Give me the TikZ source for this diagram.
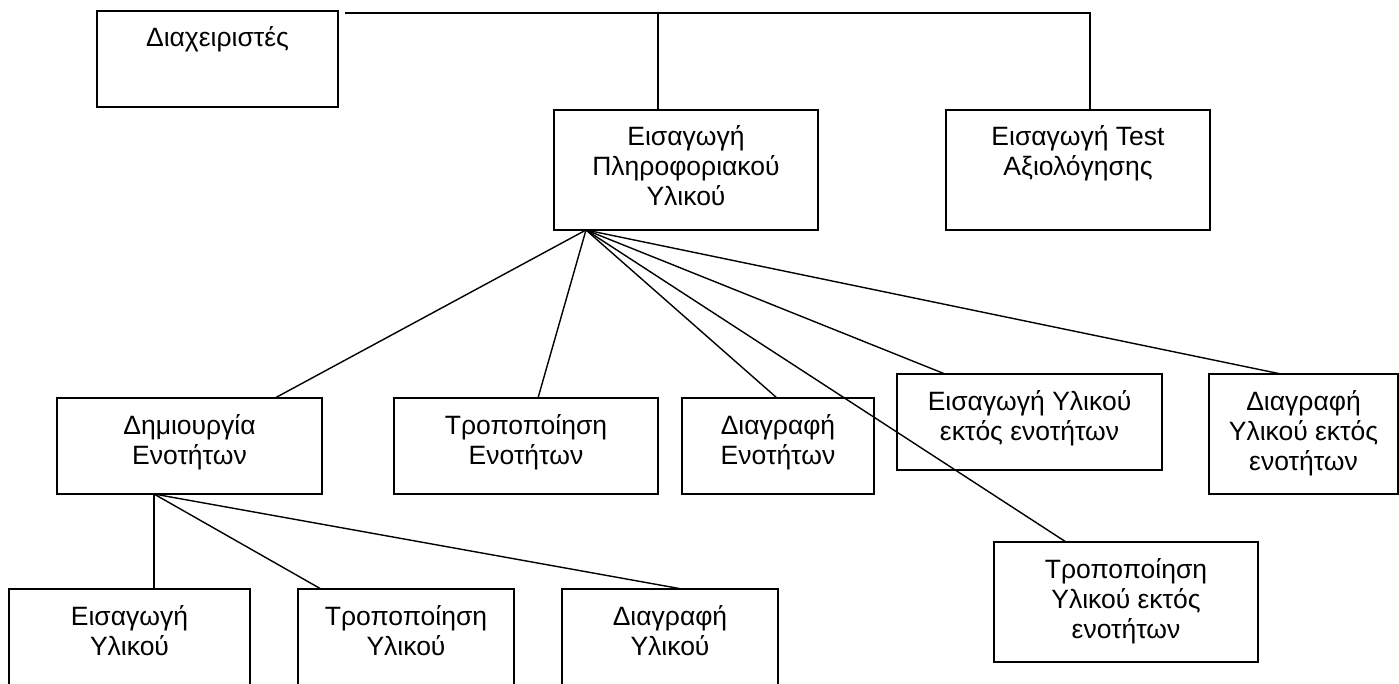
\documentclass[tikz,border=0pt]{standalone}
\usepackage{fontspec}
\setmainfont{Liberation Sans}
\newcommand{\bxt}[3]{\parbox[t][#2][t]{#1}{\fontsize{26.5}{30}\selectfont\centering\rule{0pt}{36pt}#3\par}}
\begin{document}
\begin{tikzpicture}[x=1pt,y=-1pt,
  bx/.style={draw, line width=1.9pt, inner sep=0pt, outer sep=0pt, anchor=north west},
  ln/.style={line width=1.4pt}]
\clip (0,0) rectangle (1399,684);
% boxes
\node[bx] (adm) at (97,11) {\bxt{241pt}{96pt}{Διαχειριστές}};
\node[bx] (pl) at (554,110) {\bxt{264pt}{120pt}{Εισαγωγή\\Πληροφοριακού\\Υλικού}};
\node[bx] (test) at (946,110) {\bxt{264pt}{120pt}{Εισαγωγή Test\\Αξιολόγησης}};
\node[bx] (dim) at (57,398) {\bxt{265pt}{96pt}{Δημιουργία\\Ενοτήτων}};
\node[bx] (trEn) at (394,398) {\bxt{264pt}{96pt}{Τροποποίηση\\Ενοτήτων}};
\node[bx] (diEn) at (682,398) {\bxt{192pt}{96pt}{Διαγραφή\\Ενοτήτων}};
\node[bx] (eisEk) at (897,374) {\bxt{265pt}{96pt}{Εισαγωγή Υλικού\\εκτός ενοτήτων}};
\node[bx] (diEk) at (1209,374) {\bxt{189pt}{120pt}{Διαγραφή\\Υλικού εκτός\\ενοτήτων}};
\node[bx] (trEk) at (994,542) {\bxt{264pt}{120pt}{Τροποποίηση\\Υλικού εκτός\\ενοτήτων}};
\node[bx] (eisYl) at (9,589) {\bxt{241pt}{110pt}{Εισαγωγή\\Υλικού}};
\node[bx] (trYl) at (298,589) {\bxt{216pt}{110pt}{Τροποποίηση\\Υλικού}};
\node[bx] (diYl) at (562,589) {\bxt{216pt}{110pt}{Διαγραφή\\Υλικού}};
% top connectors
\coordinate (ts) at (345,13);
\draw[ln] (ts) -| ([xshift=144pt]test.north west);
\draw[ln] ([xshift=104pt]pl.north west) -- ([xshift=104pt]pl.north west |- ts);
% fan from pl
\coordinate (pf) at ([xshift=32pt]pl.south west);
\draw[ln] (pf) -- ([xshift=218pt]dim.north west);
\draw[ln] (pf) -- ([xshift=144pt]trEn.north west);
\draw[ln] (pf) -- ([xshift=95pt]diEn.north west);
\draw[ln] (pf) -- ([xshift=48pt]eisEk.north west);
\draw[ln] (pf) -- ([xshift=72pt]diEk.north west);
\draw[ln] (pf) -- ([xshift=72pt]trEk.north west);
% fan from dim
\coordinate (df) at ([xshift=97pt]dim.south west);
\draw[ln] (df) -- ([xshift=145pt]eisYl.north west);
\draw[ln] (df) -- ([xshift=23pt]trYl.north west);
\draw[ln] (df) -- ([xshift=120pt]diYl.north west);
\end{tikzpicture}
\end{document}
